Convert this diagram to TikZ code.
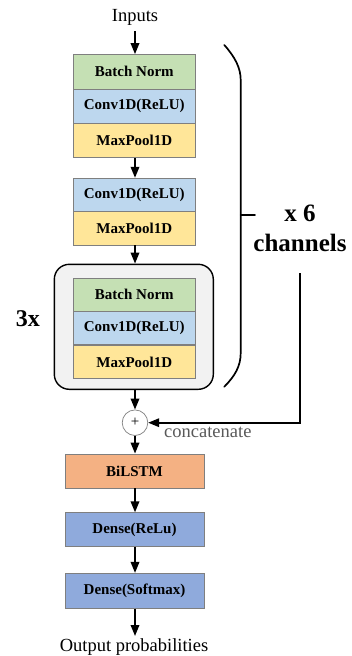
\documentclass[tikz,border=0pt]{standalone}
\usepackage{fontspec}
\setmainfont{Liberation Serif}
\usetikzlibrary{arrows.meta,positioning}

\definecolor{bnfill}{HTML}{C5E0B4}
\definecolor{convfill}{HTML}{BDD7EE}
\definecolor{poolfill}{HTML}{FFE699}
\definecolor{lstmfill}{HTML}{F4B183}
\definecolor{densefill}{HTML}{8FAADC}
\definecolor{boxline}{HTML}{7F7F7F}
\definecolor{groupfill}{HTML}{F2F2F2}
\definecolor{notegray}{HTML}{595959}

\tikzset{
  layer/.style={draw=boxline, line width=0.8pt, inner sep=0pt,
    minimum width=122pt, minimum height=34pt,
    font=\fontsize{15}{18}\selectfont\bfseries},
  headlayer/.style={layer, minimum width=139pt},
  flow/.style={line width=1.8pt, -{Triangle[length=11pt,width=8.5pt]}},
  brace/.style={line width=1.7pt, line cap=round},
  caption/.style={font=\fontsize{18.5}{22}\selectfont, inner sep=0pt},
  bigbold/.style={font=\fontsize{25}{30}\selectfont\bfseries, inner sep=0pt},
}

\begin{document}
\begin{tikzpicture}[x=1pt, y=-1pt]
\useasboundingbox (0,0) rectangle (352,656);

% input label
\node[caption, anchor=base] (in) at (135,21.7) {Inputs};

% first convolution block
\node[layer, fill=bnfill,  minimum height=34.5pt] (bn1)   at (134.3,71.8) {Batch Norm};
\node[layer, fill=convfill, minimum height=34.5pt] (conv1) at (134.3,106.3) {Conv1D(ReLU)};
\node[layer, fill=poolfill, minimum height=34.5pt] (pool1) at (134.3,140.5) {MaxPool1D};

% second convolution block
\node[layer, fill=convfill, minimum height=33.5pt] (conv2) at (134.3,195) {Conv1D(ReLU)};
\node[layer, fill=poolfill, minimum height=33.5pt] (pool2) at (134.3,228.3) {MaxPool1D};

% repeated block inside a rounded frame
\node[draw=black, line width=1.4pt, fill=groupfill, rounded corners=15pt,
      minimum width=159pt, minimum height=125pt, inner sep=0pt] (rep) at (133.8,326.8) {};
\node[layer, fill=bnfill,  minimum height=33pt] (bn3)   at (134.3,294.8) {Batch Norm};
\node[layer, fill=convfill, minimum height=33pt] (conv3) at (134.3,328) {Conv1D(ReLU)};
\node[layer, fill=poolfill, minimum height=33pt] (pool3) at (134.3,362) {MaxPool1D};
\node[bigbold, font=\fontsize{24}{28}\selectfont\bfseries, anchor=base] (times) at (28,326) {3x};

% concatenation point
\node[circle, draw=boxline, line width=0.7pt, fill=white, minimum size=25.6pt,
      inner sep=0pt, font=\fontsize{15}{15}\selectfont] (plus) at (135,422.7) {+};
\node[caption, text=notegray, anchor=base west] (cat) at (164,437.5) {concatenate};

% recurrent and dense head
\node[headlayer, fill=lstmfill,  minimum height=34pt] (lstm)  at (134.5,471) {BiLSTM};
\node[headlayer, fill=densefill, minimum height=33.5pt] (dense1) at (134.5,529.5) {Dense(ReLu)};
\node[headlayer, fill=densefill, minimum height=35pt] (dense2) at (134.5,590.8) {Dense(Softmax)};

\node[caption, anchor=base] (out) at (134,651) {Output probabilities};

% main flow
\coordinate (inbot) at (135,31);
\draw[flow] (inbot) -- (bn1.north -| inbot);
\draw[flow] (pool1.south -| inbot) -- (conv2.north -| inbot);
\draw[flow] (pool2.south -| inbot) -- (rep.north -| inbot);
\draw[flow] (rep.south -| inbot) -- (plus);
\draw[flow] (plus) -- (lstm.north -| plus);
\draw[flow] (lstm.south -| plus) -- (dense1.north -| plus);
\draw[flow] (dense1.south -| plus) -- (dense2.north -| plus);
\coordinate (outtop) at (135,636);
\draw[flow] (dense2.south -| plus) -- (outtop);

% brace spanning the per-channel branch
\coordinate (brtop) at (224.3,45);
\coordinate (brbot) at (224.3,386.7);
\coordinate (brmid) at (240.7,215);
\coordinate (brtip) at (255,215);
\draw[brace] (brtop) .. controls (235,57) and (240.7,68) .. (240.7,80)
  -- (240.7,353) .. controls (240.7,366) and (235,376) .. (brbot);
\draw[brace] (brmid) -- (brtip);

\node[bigbold, anchor=base] (x6) at (300,221.7) {x 6};
\node[bigbold, anchor=base] (chan) at (300,251.7) {channels};

% channel outputs merged into the concatenation
\coordinate (chtop) at (300,273);
\draw[flow] (chtop) |- (plus);
\end{tikzpicture}
\end{document}
